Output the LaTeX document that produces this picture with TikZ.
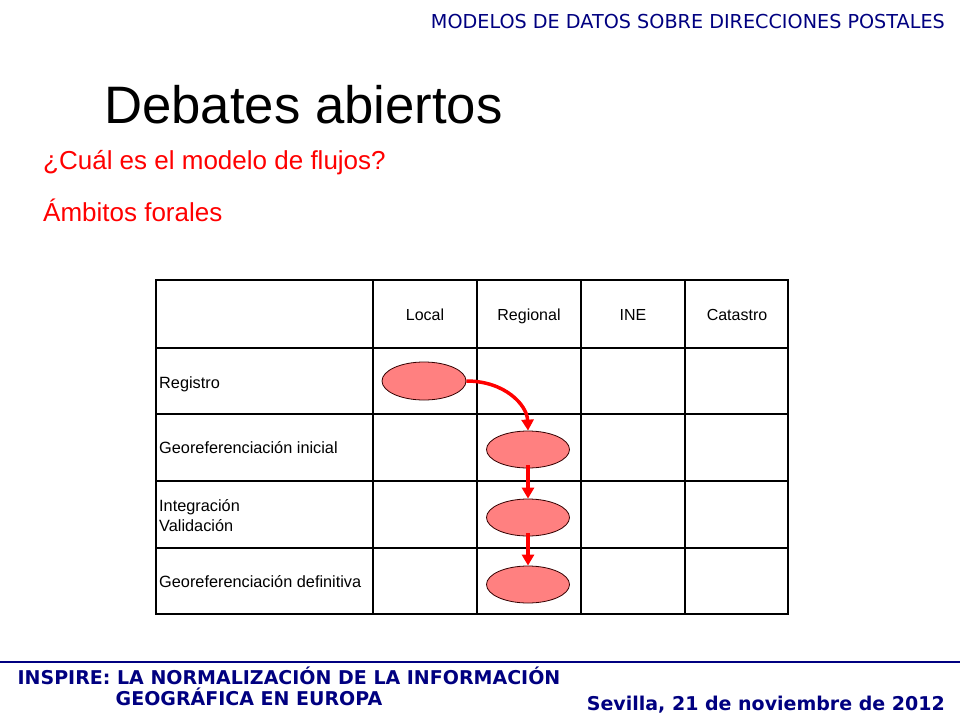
\documentclass[tikz,border=0pt]{standalone}
\usepackage{fontspec}
\setmainfont{Liberation Sans}
\newfontfamily\tahoma{DejaVu Sans}
\usetikzlibrary{shapes.geometric,arrows.meta}
\definecolor{navyblue}{RGB}{0,0,128}
\definecolor{salmonfill}{RGB}{255,128,128}
\definecolor{flowred}{RGB}{255,0,0}
\tikzset{
  thinline/.style={line width=1.3pt,black},
  thickline/.style={line width=2.2pt,black},
  cellhead/.style={font=\fontsize{16}{19}\selectfont,anchor=base,inner sep=0pt},
  rowlabel/.style={font=\fontsize{16.3}{20}\selectfont,anchor=base west,inner sep=0pt,align=left},
  stepoval/.style={ellipse,draw=black!80!red,line width=0.8pt,fill=salmonfill,minimum width=84pt,minimum height=38pt,inner sep=0pt},
  flow/.style={draw=flowred,line width=3.5pt,-{Triangle[length=11pt,width=12pt]}},
  foottext/.style={font=\tahoma\bfseries\fontsize{19}{22}\selectfont,text=navyblue,inner sep=0pt},
}
\begin{document}
\begin{tikzpicture}[x=1pt,y=-1pt]
\useasboundingbox (0,0) rectangle (960,720);
% header
\node[font=\tahoma\fontsize{19.2}{22}\selectfont,text=navyblue,anchor=base east,inner sep=0pt] (hdr) at (945,28.5) {MODELOS DE DATOS SOBRE DIRECCIONES POSTALES};
\node[font=\fontsize{52.7}{60}\selectfont,anchor=base west,inner sep=0pt] (title) at (104,123) {Debates abiertos};
\node[font=\fontsize{26}{30}\selectfont,text=flowred,anchor=base west,inner sep=0pt] (q1) at (43,169) {¿Cuál es el modelo de flujos?};
\node[font=\fontsize{26}{30}\selectfont,text=flowred,anchor=base west,inner sep=0pt] (q2) at (43,221) {Ámbitos forales};
% table grid
\draw[thinline] (373,280) -- (373,614);
\draw[thinline] (477,280) -- (477,614);
\draw[thinline] (581,280) -- (581,614);
\draw[thickline] (685,280) -- (685,614);
\draw[thinline] (156,414) -- (788,414);
\draw[thinline] (156,481) -- (788,481);
\draw[thinline] (156,548) -- (788,548);
\draw[thickline] (156,348) -- (788,348);
\draw[thickline] (156,280) rectangle (788,614);
% column heads
\node[cellhead] (hlocal) at (425,320) {Local};
\node[cellhead] (hreg) at (529,320) {Regional};
\node[cellhead] (hine) at (633,320) {INE};
\node[cellhead] (hcat) at (737,320) {Catastro};
% row labels
\node[rowlabel] (r1) at (159,388) {Registro};
\node[rowlabel] (r2) at (159,453.5) {Georeferenciación inicial};
\node[rowlabel] (r3a) at (159,511) {Integración};
\node[rowlabel] (r3b) at (159,531) {Validación};
\node[rowlabel] (r4) at (159,587.5) {Georeferenciación definitiva};
% ovals
\node[stepoval] (e1) at (424,381) {};
\node[stepoval,minimum width=83pt,minimum height=37pt] (e2) at (528,449.5) {};
\node[stepoval,minimum width=83pt,minimum height=37pt] (e3) at (528,517.5) {};
\node[stepoval,minimum width=83pt,minimum height=37pt] (e4) at (528,584.5) {};
% flows
\draw[flow] (e1.east) .. controls (505,381) and (527,405) .. (e2.north);
\draw[flow] ([yshift=3pt]e2.south) -- (e3.north);
\draw[flow] ([yshift=3pt]e3.south) -- (e4.north);
% footer
\draw[navyblue,line width=1.5pt] (0,662) coordinate (fl) -- (960,662) coordinate (fr);
\node[foottext,anchor=base] (f1) at (289,684.5) {INSPIRE: LA NORMALIZACIÓN DE LA INFORMACIÓN};
\node[foottext,anchor=base] (f2) at (249,705.5) {GEOGRÁFICA EN EUROPA};
\node[foottext,anchor=base east] (f3) at (945,710) {Sevilla, 21 de noviembre de 2012};
\end{tikzpicture}
\end{document}
